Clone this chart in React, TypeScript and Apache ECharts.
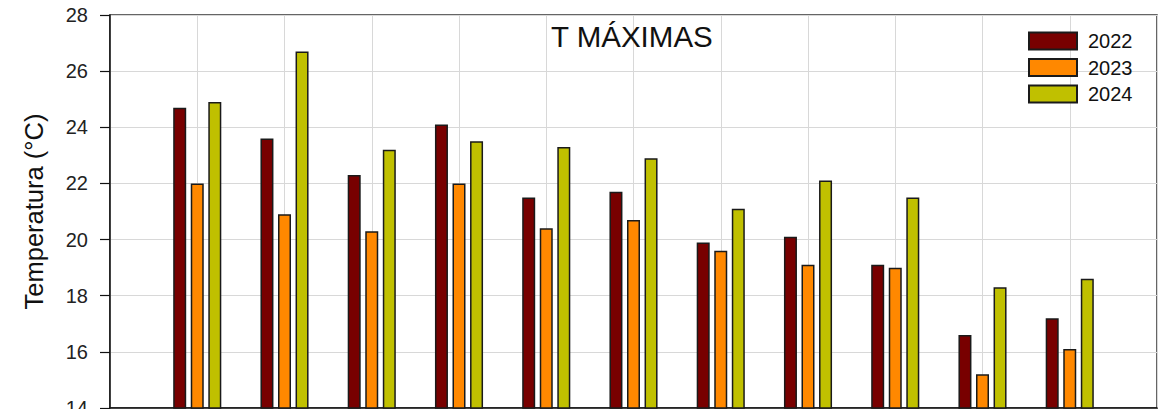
import React, { useEffect, useRef } from "react";
import * as echarts from "echarts";

// Monthly maximum temperatures (°C) per year
const groups = ["1", "2", "3", "4", "5", "6", "7", "8", "9", "10", "11"];
const years = ["2022", "2023", "2024"];
const t2022 = [24.7, 23.6, 22.3, 24.1, 21.5, 21.7, 19.9, 20.1, 19.1, 16.6, 17.2];
const t2023 = [22.0, 20.9, 20.3, 22.0, 20.4, 20.7, 19.6, 19.1, 19.0, 15.2, 16.1];
const t2024 = [24.9, 26.7, 23.2, 23.5, 23.3, 22.9, 21.1, 22.1, 21.5, 18.3, 18.6];
const yearColors = ["#780000", "#ff8800", "#c0c000"];

const FONT = "'Liberation Sans', Arial, sans-serif";

export default function App() {
  const ref = useRef<HTMLDivElement>(null);

  useEffect(() => {
    if (!ref.current) return;
    const chart = echarts.init(ref.current, undefined, { renderer: "svg" });

    // empty slots at both ends so the groups sit on the inner grid lines
    const cats = ["", ...groups, ""];
    const pad = (arr: number[]) => ["-", ...arr, "-"];
    const values = [t2022, t2023, t2024];

    chart.setOption({
      animation: false,
      textStyle: { fontFamily: FONT },
      title: {
        text: "T MÁXIMAS",
        left: 551,
        top: 21,
        padding: 0,
        textStyle: { fontSize: 29.5, fontWeight: "normal", color: "#111", fontFamily: FONT },
      },
      legend: {
        orient: "vertical",
        left: 1028,
        top: 31,
        padding: 0,
        icon: "rect",
        itemWidth: 48,
        itemHeight: 17,
        itemGap: 6.5,
        data: years,
        textStyle: {
          fontSize: 20,
          color: "#111",
          lineHeight: 17,
          height: 17,
          padding: [0, 0, 0, 6],
          fontFamily: FONT,
        },
      },
      grid: {
        left: 110,
        right: 9,
        top: 15,
        bottom: 1,
        outerBoundsMode: "none",
        containLabel: false,
        show: true,
        borderColor: "#333",
        borderWidth: 1.5,
        backgroundColor: "transparent",
      },
      xAxis: {
        type: "category",
        data: cats,
        boundaryGap: false,
        axisLine: { show: true, lineStyle: { color: "#111", width: 1.5 } },
        axisTick: { show: false },
        axisLabel: { show: false },
        splitLine: { show: true, lineStyle: { color: "#d8d8d8", width: 1 } },
      },
      yAxis: {
        type: "value",
        min: 14,
        max: 28,
        interval: 2,
        name: "Temperatura (°C)",
        nameLocation: "middle",
        nameGap: 63,
        nameTextStyle: { fontSize: 25.5, color: "#111", fontFamily: FONT },
        axisLine: { show: true, lineStyle: { color: "#111", width: 1.5 } },
        axisTick: { show: true, inside: false, length: 10, lineStyle: { color: "#111", width: 1.2 } },
        axisLabel: { fontSize: 20, color: "#222", margin: 22, fontFamily: FONT },
        splitLine: { show: true, lineStyle: { color: "#d8d8d8", width: 1 } },
      },
      series: years.map((y, i) => ({
        name: y,
        type: "bar",
        data: pad(values[i]),
        barWidth: 13,
        barGap: "35%",
        itemStyle: { color: yearColors[i], borderColor: "#1a1a1a", borderWidth: 1.5 },
      })),
    });

    return () => chart.dispose();
  }, []);

  return (
    <div
      ref={ref}
      style={{ position: "fixed", left: 0, top: 0, width: 1166, height: 409, background: "#fff" }}
    />
  );
}
